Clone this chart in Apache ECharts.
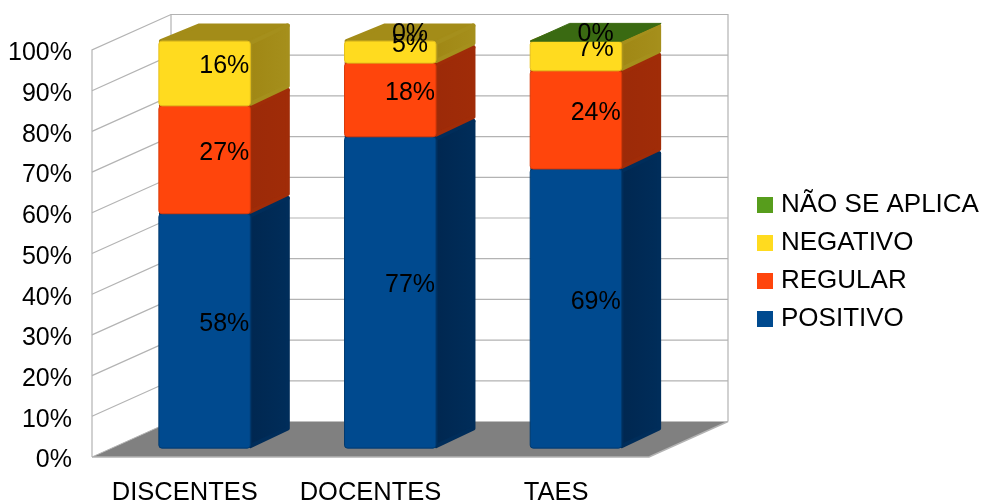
<!DOCTYPE html>
<html>
<head>
<meta charset="utf-8">
<style>html,body{margin:0;padding:0;background:#fff}#c{width:983px;height:502px}</style>
<script src="https://cdn.jsdelivr.net/npm/echarts@6/dist/echarts.min.js"></script>
</head>
<body>
<div id="c"></div>
<script>
const categories = ['DISCENTES', 'DOCENTES', 'TAES'];
const positivo = [57.6, 76.5, 68.6];
const regular = [26.5, 18.1, 24.1];
const negativo = [15.9, 5.4, 7.2];
const naoSeAplica = [null, 0, 0.1];
const yTicks = [0, 10, 20, 30, 40, 50, 60, 70, 80, 90, 100];

const FONT = '"Liberation Sans", Arial, sans-serif';
const DX = 79, DY = -35.5;

const palette = [
  { name: 'POSITIVO', values: positivo, front: '#004a8f', stroke: '#003a70', side: ['#002750', '#002d5a'], top: '#002d5a' },
  { name: 'REGULAR', values: regular, front: '#ff450c', stroke: '#d93a0a', side: ['#9c2a08', '#a02c08'], top: '#a02c08' },
  { name: 'NEGATIVO', values: negativo, front: '#ffdb1f', stroke: '#e6c01c', side: ['#a08714', '#a58f1c'], top: '#a38c18' },
  { name: 'NÃO SE APLICA', values: naoSeAplica, front: '#579d1c', stroke: '#4a8618', side: ['#386612', '#3b6c13'], top: '#3a6a12' }
];

function renderWalls(params, api) {
  if (params.dataIndex !== 0) return;
  const band = api.size([1, 0])[0];
  const x0 = api.coord([0, 0])[0] - band / 2;
  const x1 = x0 + band * categories.length;
  const y0 = api.coord([0, 0])[1];
  const y100 = api.coord([0, 100])[1];
  const grey = '#b3b3b3';
  const children = [
    { type: 'polygon', shape: { points: [[x0, y0], [x1, y0], [x1 + DX, y0 + DY], [x0 + DX, y0 + DY]] }, style: { fill: '#808080' } },
    { type: 'polyline', shape: { points: [[x0, y0], [x1, y0], [x1 + DX, y0 + DY]] }, style: { fill: null, stroke: grey, lineWidth: 1.5 } },
    { type: 'polyline', shape: { points: [[x0, y0], [x0, y100], [x0 + DX, y100 + DY], [x1 + DX, y100 + DY], [x1 + DX, y0 + DY]] }, style: { fill: null, stroke: grey, lineWidth: 1.2 } },
    { type: 'line', shape: { x1: x0 + DX, y1: y100 + DY, x2: x0 + DX, y2: y0 + DY }, style: { stroke: grey, lineWidth: 1.2 } },
    { type: 'line', shape: { x1: x0, y1: y0, x2: x0 + DX, y2: y0 + DY }, style: { stroke: grey, lineWidth: 1 } }
  ];
  yTicks.forEach(function (t) {
    if (t === 0 || t === 100) return;
    const y = api.coord([0, t])[1];
    children.push({ type: 'polyline', shape: { points: [[x0, y], [x0 + DX, y + DY], [x1 + DX, y + DY]] }, style: { fill: null, stroke: grey, lineWidth: 1.2 } });
  });
  return { type: 'group', children: children };
}

function makeRender(p) {
  return function (params, api) {
    const cat = api.value(0), base = api.value(1), val = api.value(2);
    const band = api.size([1, 0])[0];
    const w = band * 0.4925;
    const cx = api.coord([cat, 0])[0];
    const fx = cx - w / 2 + DX * 0.25;
    const fdy = DY * 0.25;
    const sx = DX * 0.5, sy = DY * 0.5;
    const yb = api.coord([cat, base])[1] + fdy;
    const yt = api.coord([cat, base + val])[1] + fdy;
    const ym = api.coord([cat, base + val / 2])[1] + DY * 0.5;
    const children = [];
    const fx2 = fx + w;
    if (val > 1) {
      children.push({
        type: 'polygon',
        shape: { points: [[fx + 2, yt], [fx + sx + 1, yt + sy + 2], [fx2 + sx - 2, yt + sy + 2], [fx2, yt]] },
        style: { fill: p.top, stroke: p.top, lineWidth: 4, lineJoin: 'round' }
      });
      children.push({
        type: 'polygon',
        shape: { points: [[fx2, yb - 2], [fx2 + sx - 2, yb + sy - 2], [fx2 + sx - 2, yt + sy + 2], [fx2, yt + 2]] },
        style: {
          fill: { type: 'linear', x: 0, y: 0, x2: 1, y2: 0, colorStops: [{ offset: 0, color: p.side[0] }, { offset: 1, color: p.side[1] }] },
          stroke: p.side[1], lineWidth: 4, lineJoin: 'round'
        }
      });
      children.push({
        type: 'rect',
        shape: { x: fx, y: yt, width: w, height: yb - yt, r: 3 },
        style: { fill: p.front, stroke: p.stroke, lineWidth: 1 }
      });
    } else if (val > 0) {
      children.push({
        type: 'polygon',
        shape: { points: [[fx, yt], [fx + sx, yt + sy], [fx2 + sx, yt + sy], [fx2, yt]] },
        style: { fill: p.top, stroke: p.top, lineWidth: 1, lineJoin: 'round' }
      });
    }
    children.push({
      type: 'text', z2: 100,
      style: {
        x: cx + sx, y: ym + 2, text: Math.round(val) + '%', fill: '#000',
        font: '25px ' + FONT, align: 'center', verticalAlign: 'middle'
      }
    });
    return { type: 'group', children: children };
  };
}

function rows(p, idx) {
  const out = [];
  categories.forEach(function (c, i) {
    if (p.values[i] === null) return;
    let base = 0;
    for (let k = 0; k < idx; k++) base += palette[k].values[i] || 0;
    out.push([i, base, p.values[i]]);
  });
  return out;
}

const series = [{
  type: 'custom', name: 'walls', z: 1, silent: true,
  renderItem: renderWalls,
  data: [[0, 0, 0]],
  encode: { x: 0, y: 1 }
}];
palette.forEach(function (p, idx) {
  series.push({
    type: 'custom', name: p.name, z: 2 + idx, silent: true,
    renderItem: makeRender(p),
    itemStyle: { color: p.front },
    data: rows(p, idx),
    encode: { x: 0, y: 1 }
  });
});

const chart = echarts.init(document.getElementById('c'), null, { renderer: 'canvas' });
chart.setOption({
  animation: false,
  backgroundColor: '#fff',
  grid: { left: 92, top: 50, width: 557, height: 407, containLabel: false, outerBoundsMode: 'none' },
  xAxis: {
    type: 'category', data: categories,
    axisLine: { show: false }, axisTick: { show: false }, splitLine: { show: false },
    axisLabel: { color: '#000', fontFamily: FONT, fontSize: 25.5, margin: 23, interval: 0 }
  },
  yAxis: {
    type: 'value', min: 0, max: 100, interval: 10,
    axisLine: { show: false }, axisTick: { show: false }, splitLine: { show: false },
    axisLabel: { color: '#000', fontFamily: FONT, fontSize: 25, margin: 20, formatter: '{value}%', verticalAlign: 'top', padding: [-9, 0, 0, 0] }
  },
  legend: {
    orient: 'vertical', left: 752, top: 187,
    itemWidth: 16, itemHeight: 16, itemGap: 12, selectedMode: false, icon: 'rect',
    textStyle: { color: '#000', fontFamily: FONT, fontSize: 26, padding: [3, 0, 0, 3] },
    data: palette.map(function (p) { return p.name; }).reverse()
  },
  tooltip: { show: false },
  series: series
});
</script>
</body>
</html>
